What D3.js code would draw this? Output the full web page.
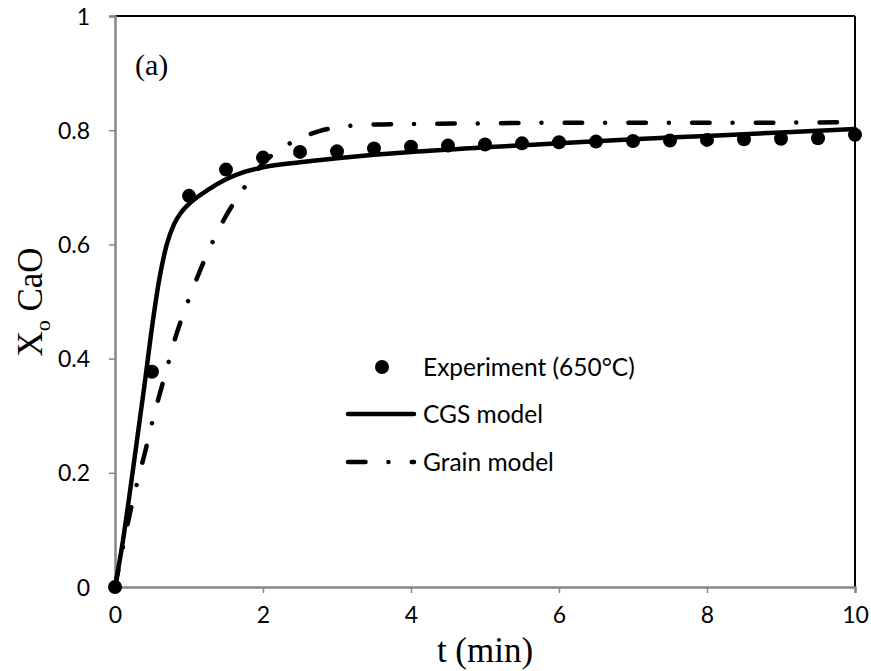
<!DOCTYPE html>
<html><head><meta charset="utf-8">
<script src="https://cdn.jsdelivr.net/npm/d3@7"></script>
<style>body{margin:0;background:#fff}svg{display:block}</style>
</head><body>
<script>
// Experimental data
const expT = [0,0.5,1,1.5,2,2.5,3,3.5,4,4.5,5,5.5,6,6.5,7,7.5,8,8.5,9,9.5,10];
const expX = [0,0.377,0.685,0.731,0.752,0.762,0.763,0.768,0.771,0.773,0.775,0.777,0.779,0.780,0.781,0.782,0.783,0.784,0.785,0.786,0.792];
// CGS model
const cgsT = [0,0.1,0.2,0.3,0.4,0.5,0.6,0.7,0.8,0.9,1.0,1.25,1.5,1.75,2,2.5,3,3.5,4,5,6,7,8,9,10];
const cgsX = [0,0.075,0.165,0.26,0.355,0.455,0.54,0.60,0.636,0.657,0.671,0.695,0.714,0.727,0.735,0.744,0.751,0.757,0.762,0.770,0.777,0.784,0.790,0.796,0.802];
// Grain model
const grT = [0,0.1,0.2,0.3,0.4,0.5,0.6,0.7,0.8,0.9,1.0,1.25,1.5,1.75,2.0,2.25,2.5,2.75,3,3.5,4,5,6,8,10];
const grX = [0,0.065,0.128,0.183,0.233,0.287,0.336,0.382,0.43,0.47,0.505,0.585,0.65,0.70,0.742,0.768,0.786,0.798,0.805,0.810,0.811,0.812,0.813,0.813,0.814];
const xTicks = [0,2,4,6,8,10];
const yTicks = [0,0.2,0.4,0.6,0.8,1];
const legendLabels = ["Experiment (650°C)","CGS model","Grain model"];

const W = 871, H = 671;
const svg = d3.select("body").append("svg").attr("width",W).attr("height",H);
const x = d3.scaleLinear().domain([0,10]).range([115,855]);
const y = d3.scaleLinear().domain([0,1]).range([587,16]);
const tickFont = "Lato, 'Liberation Sans', sans-serif";
const serif = "'Liberation Serif', 'Times New Roman', serif";

// frame top/right
svg.append("line").attr("x1",x(0)).attr("x2",x(10)).attr("y1",y(1)).attr("y2",y(1)).attr("stroke","#000").attr("stroke-width",2);
svg.append("line").attr("x1",x(10)).attr("x2",x(10)).attr("y1",y(1)).attr("y2",y(0)).attr("stroke","#000").attr("stroke-width",2);

// axes
const xAxis = d3.axisBottom(x).tickValues(xTicks).tickSize(6).tickPadding(14).tickFormat(d3.format("d"));
const yAxis = d3.axisLeft(y).tickValues(yTicks).tickSize(6).tickPadding(19).tickFormat(d => d===0||d===1 ? String(d) : d3.format(".1f")(d));
const gx = svg.append("g").attr("transform",`translate(0,${y(0)})`).call(xAxis);
const gy = svg.append("g").attr("transform",`translate(${x(0)},0)`).call(yAxis);
[gx,gy].forEach(g=>{
  g.select(".domain").attr("stroke","#868686").attr("stroke-width",2.5);
  g.selectAll(".tick line").attr("stroke","#868686").attr("stroke-width",1.5);
  g.selectAll(".tick text").attr("font-family",tickFont).attr("font-size",23).attr("fill","#000");
});
gy.selectAll(".tick text").attr("dy","0.35em");

// axis titles
svg.append("text").attr("x",485).attr("y",662).attr("text-anchor","middle")
  .attr("font-family",serif).attr("font-size",35).text("t (min)");
const yt = svg.append("text").attr("transform","translate(42,302) rotate(-90)").attr("text-anchor","middle")
  .attr("font-family",serif).attr("font-size",35);
yt.append("tspan").text("X");
yt.append("tspan").attr("font-size",22).attr("dy",8).text("o");
yt.append("tspan").attr("dy",-8).text(" CaO");

svg.append("text").attr("x",135).attr("y",75).attr("font-family",serif).attr("font-size",30).text("(a)");

// series
const dashDot = "17.5,22.95,0.01,23.25";
const lineGen = d3.line().x(d=>x(d[0])).y(d=>y(d[1])).curve(d3.curveMonotoneX);
svg.append("g").selectAll("circle").data(expT.map((t,i)=>[t,expX[i]])).join("circle")
  .attr("cx",d=>x(d[0])).attr("cy",d=>y(d[1])).attr("r",7).attr("fill","#000");
svg.append("path").attr("d",lineGen(grT.map((t,i)=>[t,grX[i]]))).attr("fill","none").attr("stroke","#000")
  .attr("stroke-width",4.5).attr("stroke-linecap","round").attr("stroke-dasharray",dashDot);
svg.append("path").attr("d",lineGen(cgsT.map((t,i)=>[t,cgsX[i]]))).attr("fill","none").attr("stroke","#000")
  .attr("stroke-width",4.5).attr("stroke-linecap","round");

// legend
const lg = svg.append("g");
const ly = [367,414,462];
lg.append("circle").attr("cx",382).attr("cy",ly[0]).attr("r",7).attr("fill","#000");
lg.append("line").attr("x1",348).attr("x2",414).attr("y1",ly[1]).attr("y2",ly[1]).attr("stroke","#000").attr("stroke-width",4.5).attr("stroke-linecap","round");
lg.append("line").attr("x1",348).attr("x2",414).attr("y1",ly[2]).attr("y2",ly[2]).attr("stroke","#000").attr("stroke-width",4.5).attr("stroke-linecap","round").attr("stroke-dasharray",dashDot);
legendLabels.forEach((s,i)=>{
  lg.append("text").attr("x",423).attr("y",ly[i]).attr("dy","0.35em").attr("font-family",tickFont).attr("font-size",24.5).text(s);
});
</script>
</body></html>
